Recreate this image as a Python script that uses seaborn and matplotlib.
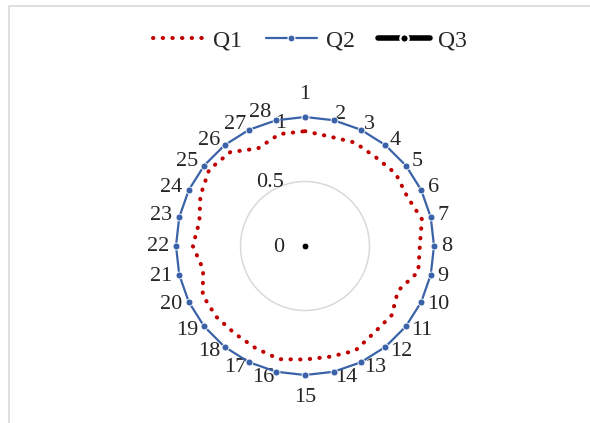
# radar chart, Q1/Q2/Q3 over 28 items
import numpy as np
import pandas as pd
import matplotlib
matplotlib.use('Agg')
from matplotlib import pyplot as plt
from matplotlib.lines import Line2D
from matplotlib.patches import Rectangle
import seaborn as sns

# data
categories = [str(i) for i in range(1, 29)]
q1 = [0.89, 0.87, 0.89, 0.88, 0.90, 0.88, 0.93, 0.89, 0.90, 0.80,
      0.86, 0.86, 0.90, 0.88, 0.88, 0.90, 0.88, 0.87, 0.88, 0.88,
      0.81, 0.87, 0.84, 0.90, 0.95, 0.93, 0.84, 0.89]
q2 = [1.0] * 28
q3 = [0.0] * 28
r_ticks = [0, 0.5, 1]
r_tick_labels = ['0', '0.5', '1']

sns.set_style('white')
plt.rcParams['font.family'] = ['Liberation Serif', 'DejaVu Serif']

n = len(categories)
theta = np.arange(n) * 2 * np.pi / n

def closed(vals):
    # close the loop: last point back at 2*pi (not 0, so seaborn keeps it apart)
    return pd.DataFrame({'theta': list(theta) + [2 * np.pi],
                         'r': list(vals) + [vals[0]]})

fig = plt.figure(figsize=(5.9, 4.23), dpi=100)
# light frame like the source (top + left edges)
fig.patches.append(Rectangle((9 / 590, -0.1), 1.2, 1 - 6 / 423 + 0.1,
                             transform=fig.transFigure, fill=False,
                             edgecolor='#D9D9D9', linewidth=1.2))

ax = fig.add_axes([176 / 590, 48 / 423, 258 / 590, 258 / 423], projection='polar')
ax.set_theta_zero_location('N')
ax.set_theta_direction(-1)

red = '#C00000'
blue = '#3A62A8'
fs = 16
dots = (0, (0.1, 2.3))

sns.lineplot(data=closed(q1), x='theta', y='r', sort=False, estimator=None, ax=ax,
             color=red, linestyle=dots, linewidth=2.9,
             dash_capstyle='round', clip_on=False, zorder=3)
sns.lineplot(data=closed(q2), x='theta', y='r', sort=False, estimator=None, ax=ax,
             color=blue, linewidth=1.6, marker='o', markersize=5,
             markeredgecolor='white', markeredgewidth=0.6, clip_on=False, zorder=4)
sns.lineplot(data=closed(q3), x='theta', y='r', sort=False, estimator=None, ax=ax,
             color='black', linewidth=3, marker='o', markersize=5,
             clip_on=False, zorder=5)

ax.set_ylim(0, 1)
ax.set_rgrids([0.5], labels=[''])
ax.yaxis.grid(True, color='#D9D9D9', linewidth=1.1)
ax.set_xticks([])
ax.xaxis.grid(False)
ax.spines['polar'].set_visible(False)
ax.set_xlabel('')
ax.set_ylabel('')

# radial value labels, left of the vertical axis
r_offsets = [(-21, -1), (-21, -1), (-19, -6)]
for rv, lab, off in zip(r_ticks, r_tick_labels, r_offsets):
    ax.annotate(lab, xy=(0, rv), xytext=off,
                textcoords='offset pixels', ha='right', va='center',
                fontsize=fs, annotation_clip=False)

# category labels just outside the outer ring
for t, lab in zip(theta, categories):
    s, c = np.sin(t), np.cos(t)
    if abs(s) < 0.01:
        ha = 'center'
        va = 'bottom' if c > 0 else 'top'
        off = (0, 13 * np.sign(c))
    else:
        ha = 'left' if s > 0 else 'right'
        va = 'center'
        off = (7 * s, 6 * c)
    if lab == '28':
        off = (off[0] - 3, off[1] + 2)
    ax.annotate(lab, xy=(t, 1), xytext=off, textcoords='offset pixels',
                ha=ha, va=va, fontsize=fs, annotation_clip=False)

handles = [
    Line2D([], [], color=red, linestyle=dots, linewidth=2.9,
           dash_capstyle='round'),
    Line2D([], [], color=blue, linewidth=1.6, marker='o', markersize=5,
           markeredgecolor='white', markeredgewidth=0.8),
    Line2D([], [], color='black', linewidth=4, marker='o', markersize=6,
           markerfacecolor='black', markeredgecolor='white', markeredgewidth=1.6),
]
fig.legend(handles, ['Q1', 'Q2', 'Q3'], loc='center', bbox_to_anchor=(310 / 590, 1 - 41 / 423),
           ncol=3, frameon=False, fontsize=17, handlelength=2.2,
           handletextpad=0.35, columnspacing=1.0)

fig.savefig('out.png', dpi=100)
